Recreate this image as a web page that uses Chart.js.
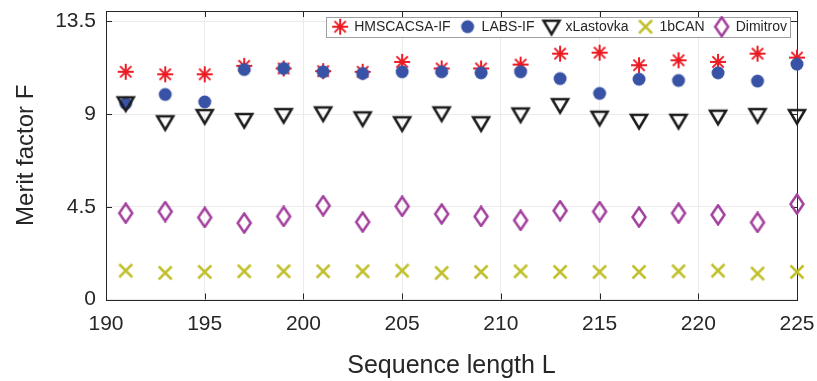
<!DOCTYPE html>
<html>
<head>
<meta charset="utf-8">
<script src="https://cdn.jsdelivr.net/npm/chart.js@4.4.1/dist/chart.umd.min.js"></script>
<style>
    html, body { margin: 0; padding: 0; background: #fff; }
</style>
</head>
<body>
<canvas id="myChart" width="817" height="381"></canvas>
<script>
// sequence lengths (odd L)
const lengths = [191, 193, 195, 197, 199, 201, 203, 205, 207, 209, 211, 213, 215, 217, 219, 221, 223, 225];

// merit factors
const hmscacsa = [11.05, 10.93, 10.93, 11.34, 11.21, 11.08, 11.05, 11.53, 11.21, 11.21, 11.40, 11.93, 11.98, 11.37, 11.61, 11.53, 11.93, 11.74];
const labs = [9.52, 9.95, 9.59, 11.16, 11.21, 11.05, 10.97, 11.05, 11.05, 11.00, 11.05, 10.72, 10.00, 10.69, 10.63, 11.00, 10.60, 11.42];
const xLastovka = [9.52, 8.60, 8.90, 8.71, 8.95, 9.03, 8.79, 8.55, 9.03, 8.55, 8.98, 9.43, 8.82, 8.67, 8.67, 8.87, 8.95, 8.90];
const oneBCAN = [1.40, 1.29, 1.34, 1.37, 1.37, 1.37, 1.37, 1.40, 1.29, 1.34, 1.37, 1.34, 1.34, 1.34, 1.37, 1.40, 1.26, 1.34];
const dimitrov = [4.19, 4.27, 3.98, 3.71, 4.03, 4.55, 3.76, 4.52, 4.15, 4.03, 3.84, 4.31, 4.27, 4.00, 4.19, 4.11, 3.74, 4.63];

const xTicks = [190, 195, 200, 205, 210, 215, 220, 225];
const yTicks = [0, 4.5, 9, 13.5];

const FONT = "'Liberation Sans', Arial, sans-serif";
const INK = '#262626';

// MATLAB-like markers drawn once on small canvases
function makeMarker(kind, color) {
    const c = document.createElement('canvas');
    c.width = 22;
    c.height = 22;
    const g = c.getContext('2d');
    const m = 11;
    g.strokeStyle = color;
    g.fillStyle = color;
    g.lineJoin = 'miter';
    if (kind === 'star') {
        g.lineWidth = 2;
        const r = 8;
        for (let a = 0; a < 4; a++) {
            const t = a * Math.PI / 4;
            g.beginPath();
            g.moveTo(m - r * Math.cos(t), m - r * Math.sin(t));
            g.lineTo(m + r * Math.cos(t), m + r * Math.sin(t));
            g.stroke();
        }
    } else if (kind === 'circle') {
        g.beginPath();
        g.arc(m, m, 6.5, 0, Math.PI * 2);
        g.fill();
    } else if (kind === 'tri') {
        g.lineWidth = 2.5;
        g.beginPath();
        g.moveTo(m - 8, m - 6);
        g.lineTo(m + 8, m - 6);
        g.lineTo(m, m + 7.5);
        g.closePath();
        g.stroke();
    } else if (kind === 'x') {
        g.lineWidth = 2.5;
        g.beginPath();
        g.moveTo(m - 6.5, m - 6.5);
        g.lineTo(m + 6.5, m + 6.5);
        g.moveTo(m + 6.5, m - 6.5);
        g.lineTo(m - 6.5, m + 6.5);
        g.stroke();
    } else if (kind === 'diamond') {
        g.lineWidth = 2.5;
        g.beginPath();
        g.moveTo(m, m - 9.5);
        g.lineTo(m + 6.5, m);
        g.lineTo(m, m + 9.5);
        g.lineTo(m - 6.5, m);
        g.closePath();
        g.stroke();
    }
    return c;
}

function series(label, values, marker, order) {
    return {
        label: label,
        data: lengths.map((L, i) => ({ x: L, y: values[i] })),
        pointStyle: marker,
        pointRadius: 7,
        pointHoverRadius: 7,
        showLine: false,
        clip: false,
        order: order
    };
}

// legend sits inside the axes, top right, with a grey frame
const insideLegend = {
    id: 'insideLegend',
    beforeLayout(chart) {
        const lg = chart.legend;
        if (!lg || lg._patched) return;
        lg._patched = true;
        const fit = lg.fit;
        lg.fit = function () {
            fit.call(this);
            this._realHeight = this.height;
            this.height = 0;
        };
        const draw = lg.draw;
        lg.draw = function () {
            const hb = this.legendHitBoxes;
            if (hb && hb.length) {
                const first = hb[0];
                const last = hb[hb.length - 1];
                const x0 = first.left - 7;
                const x1 = last.left + last.width + 3;
                const y0 = first.top - 3;
                const y1 = first.top + first.height + 3;
                const ctx = this.ctx;
                ctx.save();
                ctx.fillStyle = '#fff';
                ctx.fillRect(x0, y0, x1 - x0, y1 - y0);
                ctx.strokeStyle = '#a0a0a0';
                ctx.lineWidth = 1;
                ctx.strokeRect(Math.round(x0) + 0.5, Math.round(y0) + 0.5, Math.round(x1 - x0), Math.round(y1 - y0));
                ctx.restore();
            }
            draw.call(this);
        };
    },
    afterLayout(chart) {
        // hit boxes get re-adjusted by the legend plugin's afterUpdate
        const lg = chart.legend;
        const area = chart.chartArea;
        lg.height = lg._realHeight || lg.height;
        lg.top = area.top - 1.3;
        lg.bottom = lg.top + lg.height;
        lg.left = area.left;
        lg.right = area.right;
        lg.width = lg.right - lg.left;
    }
};

// box round the axes and inward tick marks, as in MATLAB
const axesFrame = {
    id: 'axesFrame',
    beforeDatasetsDraw(chart) {
        const { ctx, chartArea: a, scales } = chart;
        const len = 6;
        ctx.save();
        ctx.strokeStyle = INK;
        ctx.lineWidth = 1;
        ctx.beginPath();
        xTicks.forEach(v => {
            const px = Math.round(scales.x.getPixelForValue(v)) + 0.5;
            ctx.moveTo(px, a.bottom);
            ctx.lineTo(px, a.bottom - len);
            ctx.moveTo(px, a.top);
            ctx.lineTo(px, a.top + len);
        });
        yTicks.forEach(v => {
            const py = Math.round(scales.y.getPixelForValue(v)) + 0.5;
            ctx.moveTo(a.left, py);
            ctx.lineTo(a.left + len, py);
            ctx.moveTo(a.right, py);
            ctx.lineTo(a.right - len, py);
        });
        ctx.stroke();
        ctx.strokeRect(Math.round(a.left) + 0.5, Math.round(a.top) + 0.5,
            Math.round(a.right - a.left), Math.round(a.bottom - a.top));
        ctx.restore();
    }
};

function noPad(s) {
    s.paddingTop = 0;
    s.paddingBottom = 0;
    s.paddingLeft = 0;
    s.paddingRight = 0;
}

document.addEventListener('DOMContentLoaded', () => {
    const ctx = document.getElementById('myChart');

    const myChart = new Chart(ctx, {
        type: 'scatter',
        data: {
            datasets: [
                series('HMSCACSA-IF', hmscacsa, makeMarker('star', '#ec1c24'), 5),
                series('LABS-IF', labs, makeMarker('circle', '#3853a5'), 4),
                series('xLastovka', xLastovka, makeMarker('tri', '#1c1c1c'), 3),
                series('1bCAN', oneBCAN, makeMarker('x', '#c0c02c'), 2),
                series('Dimitrov', dimitrov, makeMarker('diamond', '#a2409d'), 1)
            ]
        },
        options: {
            responsive: false,
            animation: false,
            events: [],
            layout: {
                padding: { left: 0, right: 20, top: 11, bottom: 0 }
            },
            plugins: {
                tooltip: { enabled: false },
                legend: {
                    position: 'top',
                    align: 'end',
                    labels: {
                        usePointStyle: true,
                        padding: 10,
                        color: INK,
                        font: { family: FONT, size: 14 },
                        sort: (a, b) => a.datasetIndex - b.datasetIndex
                    }
                }
            },
            scales: {
                x: {
                    type: 'linear',
                    min: 190,
                    max: 225,
                    afterBuildTicks: s => { s.ticks = xTicks.map(v => ({ value: v })); },
                    afterFit: s => { s.height = 81.5; noPad(s); },
                    grid: { color: '#ebebeb', drawTicks: false },
                    border: { display: false },
                    ticks: {
                        color: INK,
                        padding: 12,
                        maxRotation: 0,
                        font: { family: FONT, size: 21 }
                    },
                    title: {
                        display: true,
                        text: 'Sequence length L',
                        color: INK,
                        font: { family: FONT, size: 25 },
                        padding: { top: 0, bottom: 0 }
                    }
                },
                y: {
                    type: 'linear',
                    min: 0,
                    max: 14,
                    afterBuildTicks: s => { s.ticks = yTicks.map(v => ({ value: v })); },
                    afterFit: s => { s.width = 106; noPad(s); },
                    grid: { color: '#ebebeb', drawTicks: false },
                    border: { display: false },
                    ticks: {
                        color: INK,
                        padding: 10,
                        font: { family: FONT, size: 21 }
                    },
                    title: {
                        display: true,
                        text: 'Merit factor F',
                        color: INK,
                        font: { family: FONT, size: 24 },
                        padding: { top: 12, bottom: 0 }
                    }
                }
            }
        },
        plugins: [insideLegend, axesFrame]
    });
});
</script>
</body>
</html>
